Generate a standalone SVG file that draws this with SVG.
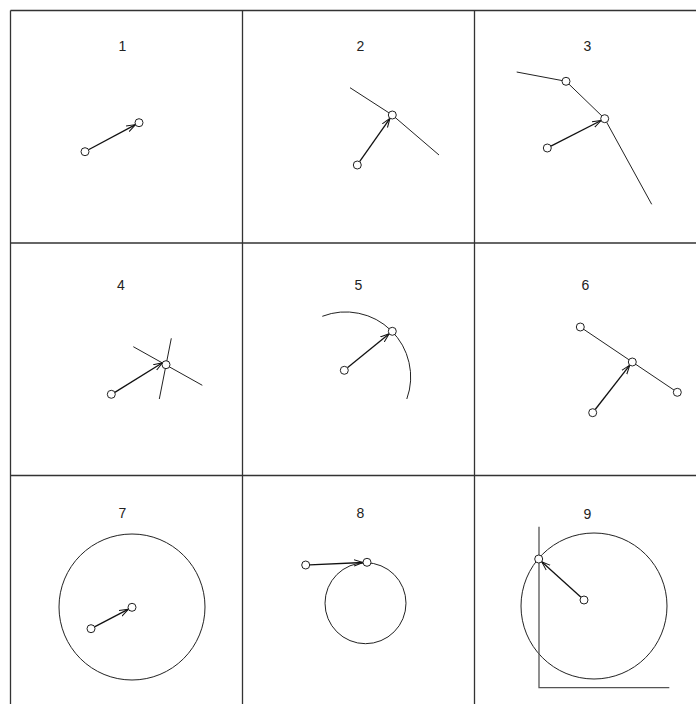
<svg xmlns="http://www.w3.org/2000/svg" width="696" height="704" viewBox="0 0 696 704">
<style>
.grid{stroke:#333;stroke-width:1.3;fill:none}
.ln{stroke:#222;stroke-width:1;fill:none}
.arr{stroke:#111;stroke-width:1.3;fill:none;marker-end:url(#ah)}
.nd{fill:#fff;stroke:#222;stroke-width:1}
.ax{stroke:#555;stroke-width:1.3;fill:none}
.lbl{font-family:"Liberation Sans",Arial,sans-serif;font-size:14px;fill:#222;text-anchor:middle}
</style>
<defs>
<marker id="ah" markerUnits="userSpaceOnUse" markerWidth="12" markerHeight="10" refX="9" refY="4" orient="auto">
<path d="M0,0.8 L9,4 L0,7.2" fill="none" stroke="#111" stroke-width="1"/>
</marker>
</defs>
<rect width="696" height="704" fill="#fff"/>
<g id="grid">
<line class="grid" x1="10.5" y1="10.5" x2="696" y2="10.5"/>
<line class="grid" x1="10.5" y1="10.5" x2="10.5" y2="704"/>
<line class="grid" x1="242.5" y1="10.5" x2="242.5" y2="704"/>
<line class="grid" x1="474.5" y1="10.5" x2="474.5" y2="704"/>
<line class="grid" x1="10.5" y1="243" x2="696" y2="243"/>
<line class="grid" x1="10.5" y1="475.5" x2="696" y2="475.5"/>
</g>
<g id="labels">
<text class="lbl" x="122.5" y="51">1</text>
<text class="lbl" x="360.5" y="51">2</text>
<text class="lbl" x="587.5" y="51">3</text>
<text class="lbl" x="121" y="290">4</text>
<text class="lbl" x="358.5" y="290">5</text>
<text class="lbl" x="585.5" y="290">6</text>
<text class="lbl" x="122.5" y="518">7</text>
<text class="lbl" x="360.5" y="518">8</text>
<text class="lbl" x="587.5" y="519">9</text>
</g>
<g id="shapes">
<polyline class="ln" points="350,87.7 392.3,115 439,155"/>
<polyline class="ln" points="516.7,72 566,81.3 604.7,118.7 651.7,204.3"/>
<line class="ln" x1="133.3" y1="346.7" x2="202.3" y2="385.3"/>
<line class="ln" x1="171.3" y1="338.3" x2="159.3" y2="399"/>
<path class="ln" d="M322.3,316.3 A65,65 0 0 1 406.8,399"/>
<line class="ln" x1="580.3" y1="327" x2="677.3" y2="392.3"/>
<circle class="ln" cx="132" cy="607" r="73"/>
<circle class="ln" cx="365.5" cy="603.2" r="40.5"/>
<circle class="ln" cx="594" cy="606" r="73"/>
<polyline class="ax" points="539,526.7 539,687.7 669.3,687.7"/>
</g>
<g id="connectors">
<line class="arr" x1="88.5" y1="149.8" x2="135.5" y2="124.6"/>
<line class="arr" x1="359.6" y1="161.7" x2="390" y2="118.3"/>
<line class="arr" x1="550.9" y1="146.2" x2="601.1" y2="120.5"/>
<line class="arr" x1="114.8" y1="392.4" x2="162.5" y2="362.8"/>
<line class="arr" x1="347.4" y1="367.8" x2="389.2" y2="333.8"/>
<line class="arr" x1="595.2" y1="409.5" x2="629.8" y2="365.2"/>
<line class="arr" x1="94.5" y1="626.8" x2="128.5" y2="609.2"/>
<line class="arr" x1="309.7" y1="564.8" x2="363" y2="562.5"/>
<line class="arr" x1="581" y1="597.3" x2="541.7" y2="561.7"/>
</g>
<g id="nodes">
<circle id="n1a" class="nd" cx="85" cy="151.7" r="4"/>
<circle id="n1b" class="nd" cx="139" cy="122.7" r="4"/>
<circle id="n2a" class="nd" cx="357.3" cy="165" r="4"/>
<circle id="n2b" class="nd" cx="392.3" cy="115" r="4"/>
<circle id="n3a" class="nd" cx="547.3" cy="148" r="4"/>
<circle id="n3b" class="nd" cx="566" cy="81.3" r="4"/>
<circle id="n3c" class="nd" cx="604.7" cy="118.7" r="4"/>
<circle id="n4a" class="nd" cx="111.3" cy="394.3" r="4"/>
<circle id="n4b" class="nd" cx="166" cy="364.7" r="4"/>
<circle id="n5a" class="nd" cx="344.3" cy="370.3" r="4"/>
<circle id="n5b" class="nd" cx="392.3" cy="331.3" r="4"/>
<circle id="n6a" class="nd" cx="592.7" cy="412.7" r="4"/>
<circle id="n6b" class="nd" cx="580.3" cy="327" r="4"/>
<circle id="n6c" class="nd" cx="632.3" cy="362" r="4"/>
<circle id="n6d" class="nd" cx="677.3" cy="392.3" r="4"/>
<circle id="n7a" class="nd" cx="91" cy="628.7" r="4"/>
<circle id="n7b" class="nd" cx="132" cy="607.3" r="4"/>
<circle id="n8a" class="nd" cx="305.7" cy="565" r="4"/>
<circle id="n8b" class="nd" cx="367" cy="562.3" r="4"/>
<circle id="n9a" class="nd" cx="584" cy="600" r="4"/>
<circle id="n9b" class="nd" cx="538.7" cy="559" r="4"/>
</g>
</svg>
